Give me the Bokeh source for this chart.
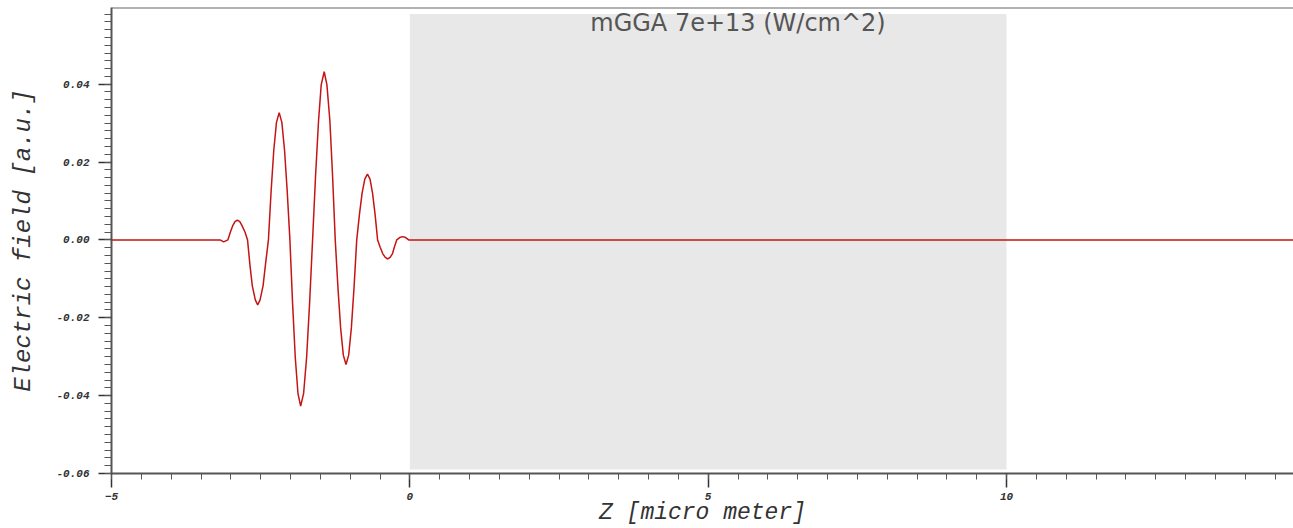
from bokeh.plotting import figure
from bokeh.models import Range1d, BoxAnnotation, Span, NumeralTickFormatter, SingleIntervalTicker, ColumnDataSource
from bokeh.core.properties import value
from bokeh.embed import file_html
from bokeh.resources import INLINE

# Electric field of the pulse
z_um = [-5.0, -3.18, -3.12, -3.05, -3.01, -2.97, -2.93, -2.89, -2.85, -2.81, -2.76, -2.72,
        -2.68, -2.64, -2.59, -2.55, -2.51, -2.46, -2.42, -2.37,
        -2.325, -2.28, -2.235, -2.19, -2.145, -2.10, -2.055, -2.01,
        -1.965, -1.92, -1.875, -1.83, -1.78, -1.73, -1.68, -1.63,
        -1.58, -1.53, -1.485, -1.435, -1.39, -1.34, -1.295, -1.25,
        -1.205, -1.16, -1.115, -1.07, -1.025, -0.98, -0.935, -0.89,
        -0.845, -0.80, -0.755, -0.71, -0.667, -0.625, -0.582, -0.54,
        -0.497, -0.455, -0.412, -0.37, -0.33, -0.29, -0.26, -0.22,
        -0.17, -0.12, -0.07, -0.02, 0.0, 14.81]
field_au = [0.0, 0.0, -0.0005, 0.0, 0.0019, 0.0036, 0.0047, 0.0051, 0.0047, 0.0036, 0.0019, 0.0,
            -0.0064, -0.0118, -0.0154, -0.0167, -0.0154, -0.0118, -0.0064, 0.0,
            0.0125, 0.0231, 0.0302, 0.0327, 0.0302, 0.0231, 0.0125, 0.0,
            -0.0163, -0.0302, -0.0394, -0.0427, -0.0394, -0.0302, -0.0163, 0.0,
            0.0165, 0.0306, 0.0399, 0.0432, 0.0399, 0.0306, 0.0165, 0.0,
            -0.0122, -0.0226, -0.0296, -0.0320, -0.0296, -0.0226, -0.0122, 0.0,
            0.0065, 0.0120, 0.0156, 0.0169, 0.0156, 0.0120, 0.0065, 0.0,
            -0.0019, -0.0035, -0.0045, -0.0049, -0.0045, -0.0035, -0.0019, 0.0,
            0.0006, 0.00085, 0.0006, 0.0, 0.0, 0.0]

# Material region (micro meter)
slab_start = 0.0
slab_end = 10.0
title_text = "mGGA 7e+13 (W/cm^2)"
x_label = "Z [micro meter]"
y_label = "Electric field [a.u.]"

Y_TOP = 0.0597
p = figure(width=1293, height=528, output_backend="svg", toolbar_location=None,
           x_range=Range1d(-5, 14.81), y_range=Range1d(-0.06, Y_TOP),
           min_border_left=111, min_border_right=0, min_border_top=7, min_border_bottom=54)
p.outline_line_color = None
p.xgrid.visible = False
p.ygrid.visible = False

p.add_layout(BoxAnnotation(left=slab_start, right=slab_end, top=0.058, bottom=-0.059,
                           fill_color="#e8e8e8", fill_alpha=1.0, line_color=None, level="underlay"))
p.add_layout(Span(location=Y_TOP, dimension="width", line_color="#666666", line_width=2))

src = ColumnDataSource(dict(z=z_um, e=field_au))
p.line("z", "e", source=src, line_color="#c41414", line_width=1.5)

p.text(x=[(slab_start + slab_end) / 2 + 0.5], y=[Y_TOP], text=[title_text],
       text_font=value("DejaVu Sans"), text_font_size="24px", text_color="#555555",
       text_align="center", text_baseline="top", y_offset=1)

mono = "Liberation Mono"
p.xaxis.ticker = SingleIntervalTicker(interval=5, num_minor_ticks=10)
p.yaxis.ticker = SingleIntervalTicker(interval=0.02, num_minor_ticks=10)
p.yaxis.formatter = NumeralTickFormatter(format="0.00")
for ax in (p.xaxis, p.yaxis):
    ax.axis_line_color = "#555555"
    ax.axis_line_width = 2
    ax.major_tick_line_color = "#333333"
    ax.minor_tick_line_color = "#555555"
    ax.major_tick_line_width = 1.5
    ax.major_tick_in = 0
    ax.minor_tick_in = 0
    ax.major_label_text_font = mono
    ax.major_label_text_font_style = "bold italic"
    ax.major_label_text_font_size = "11px"
    ax.major_label_text_color = "#333333"
    ax.axis_label_text_font = mono
    ax.axis_label_text_font_style = "italic"
    ax.axis_label_text_font_size = "24px"
    ax.axis_label_text_color = "#333333"
p.yaxis.major_tick_out = 13
p.yaxis.minor_tick_out = 7
p.yaxis.major_label_standoff = 9
p.yaxis.axis_label = y_label
p.yaxis.axis_label_standoff = 16
p.xaxis.major_tick_out = 14
p.xaxis.minor_tick_out = 6
p.xaxis.major_label_standoff = 5
p.xaxis.axis_label = x_label
p.xaxis.axis_label_standoff = -3
p.xaxis.axis_label_text_font_size = "23px"

open("out.html", "w").write(file_html(p, INLINE))
